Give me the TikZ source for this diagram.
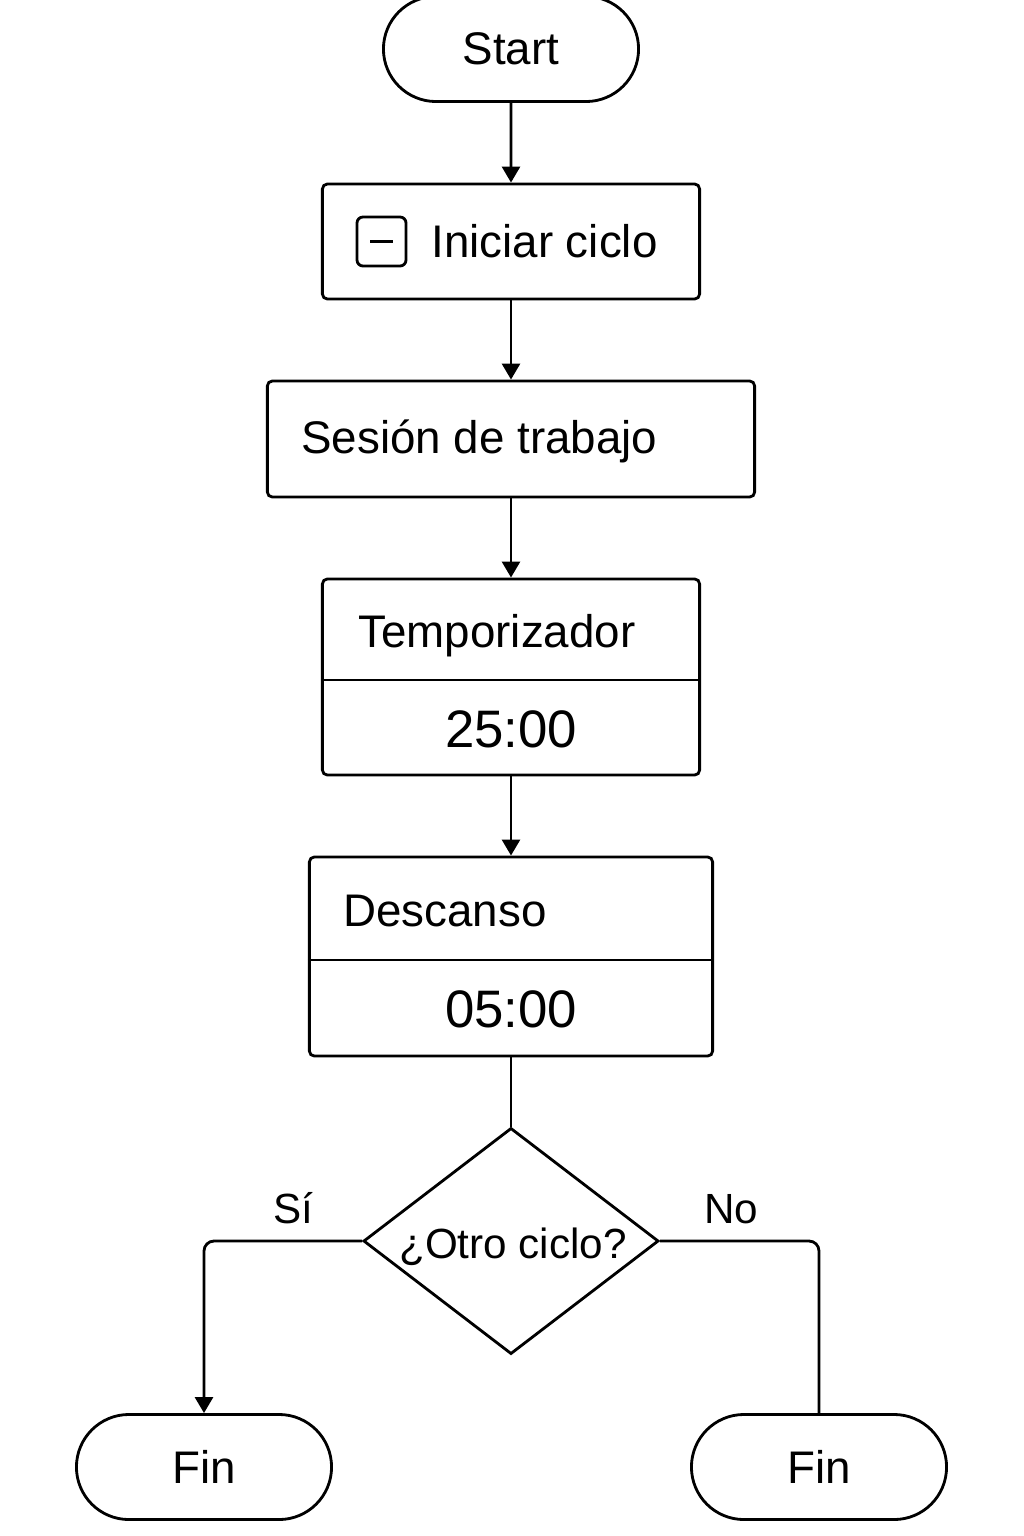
\documentclass[tikz,border=0pt]{standalone}
\usepackage{fontspec}
\setmainfont{Liberation Sans}
\usetikzlibrary{shapes.misc,shapes.geometric,arrows.meta}

\begin{document}
\begin{tikzpicture}[x=0.01cm, y=-0.01cm, line width=0.8pt,
	every node/.style={font=\fontsize{13}{16}\selectfont},
	terminal/.style={draw, rounded rectangle, minimum width=2.55cm, minimum height=1.05cm, inner sep=0pt},
	box/.style={draw, rounded corners=0.05cm, inner sep=0pt},
	decision/.style={draw, diamond, aspect=1.31, minimum width=2.95cm, minimum height=2.26cm, inner sep=0pt, font=\fontsize{12}{14}\selectfont},
	txt/.style={anchor=base west, inner sep=0pt},
	clock/.style={anchor=base, inner sep=0pt, font=\fontsize{15}{18}\selectfont},
	branch/.style={anchor=base, inner sep=0pt, font=\fontsize{12}{14}\selectfont},
	arr/.style={-{Triangle[width=0.18cm, length=0.16cm]}}
	]
	\useasboundingbox (0,0) rectangle (1024,1536);

	\node[terminal] (start) at (511,49) {Start};

	\node[box, minimum width=3.77cm, minimum height=1.15cm] (iniciar) at (511,241.5) {};
	\node[draw, rounded corners=0.06cm, minimum size=0.49cm, inner sep=0pt] (icono) at (381.5,241.5) {};
	\draw[line width=0.6pt] ([xshift=-0.11cm]icono.center) -- ([xshift=0.11cm]icono.center);
	\node[txt] (iniciarTxt) at (430,257) {Iniciar ciclo};

	\node[box, minimum width=4.87cm, minimum height=1.16cm] (sesion) at (511,439) {};
	\node[txt] (sesionTxt) at (300,453) {Sesión de trabajo};

	\node[box, minimum width=3.77cm, minimum height=1.96cm] (temp) at (511,677) {};
	\coordinate (tempDiv) at (511,680);
	\draw (temp.west |- tempDiv) -- (temp.east |- tempDiv);
	\node[txt] (tempTxt) at (357,647) {Temporizador};
	\node[clock] (tempVal) at (511,747) {25:00};

	\node[box, minimum width=4.03cm, minimum height=1.99cm] (desc) at (511,956.5) {};
	\coordinate (descDiv) at (511,960);
	\draw (desc.west |- descDiv) -- (desc.east |- descDiv);
	\node[txt] (descTxt) at (342,926) {Descanso};
	\node[clock] (descVal) at (511,1027) {05:00};

	\node[decision] (otro) at (511,1241) {};
	\node[branch] (otroTxt) at (513,1258) {¿Otro ciclo?};
	\node[branch] (si) at (293,1223) {Sí};
	\node[branch] (no) at (731,1223) {No};

	\node[terminal] (finSi) at (204,1467) {Fin};
	\node[terminal] (finNo) at (819,1467) {Fin};

	\draw[arr] (start) -- (iniciar);
	\draw[arr] (iniciar) -- (sesion);
	\draw[arr] (sesion) -- (temp);
	\draw[arr] (temp) -- (desc);
	\draw (desc) -- (otro);
	\draw[arr, rounded corners=0.1cm] (otro.west) -| (finSi.north);
	\draw[rounded corners=0.1cm] (otro.east) -| (finNo.north);
\end{tikzpicture}
\end{document}
